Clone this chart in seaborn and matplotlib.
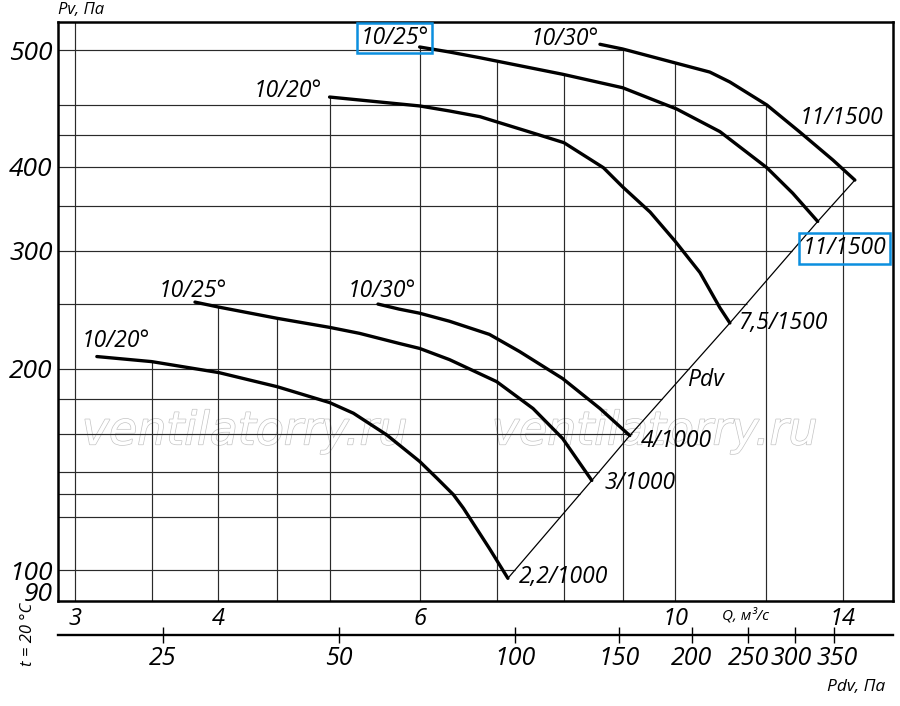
import numpy as np
import pandas as pd
import matplotlib
matplotlib.use("Agg")
import matplotlib.pyplot as plt
import matplotlib.patheffects as pe
import matplotlib.transforms as mtransforms
from matplotlib.ticker import FixedLocator, NullLocator
import seaborn as sns

# ---------------- data: Q (m3/s) and Pv (Pa) ----------------
q_a = [3.135, 3.50, 4.005, 4.50, 5.00, 5.245, 5.607, 5.99, 6.20, 6.41, 6.54, 6.89, 7.15]
p_a = [208.5, 204.9, 197.3, 188.0, 178.0, 171.6, 159.3, 145.4, 137.3, 129.7, 123.8, 107.8, 97.3]

q_b = [3.817, 4.005, 4.50, 5.00, 5.31, 5.75, 5.99, 6.36, 6.99, 7.52, 7.98, 8.46]
p_b = [251.4, 247.1, 237.8, 230.5, 225.8, 218.1, 214.4, 206.3, 191.3, 174.4, 157.3, 136.2]

q_c = [5.51, 5.75, 5.99, 6.36, 6.89, 7.32, 7.98, 8.60, 9.13]
p_c = [249.7, 245.4, 242.0, 235.4, 225.0, 212.1, 193.3, 174.4, 158.9]

q_d = [5.00, 5.99, 6.36, 6.76, 7.47, 8.00, 8.66, 9.00, 9.51, 10.00, 10.51, 10.94, 11.16]
p_d = [457.1, 449.4, 445.1, 440.3, 427.6, 419.0, 399.0, 373.6, 342.6, 309.9, 278.3, 246.5, 234.0]

q_e = [5.99, 6.36, 6.76, 7.98, 9.00, 10.03, 10.94, 12.02, 12.66, 13.31]
p_e = [502.9, 498.1, 492.7, 477.4, 465.3, 446.8, 427.9, 399.0, 365.5, 331.7]

q_f = [8.60, 9.00, 10.03, 10.72, 11.16, 12.02, 12.84, 13.72, 14.34]
p_f = [505.5, 501.0, 487.5, 479.4, 470.4, 450.2, 427.6, 405.4, 382.4]

curve_ids = ["A", "B", "C", "D", "E", "F"]
start_labels = ["10/20°", "10/25°", "10/30°", "10/20°", "10/25°", "10/30°"]
end_labels = ["2,2/1000", "3/1000", "4/1000", "7,5/1500", "11/1500", "11/1500"]

q_ticks = [3, 4, 6, 10, 14]
q_grid = [3, 3.5, 4, 4.5, 5, 6, 7, 8, 9, 10, 12, 14]
p_ticks = [90, 100, 200, 300, 400, 500]
p_grid_to_pdv = [100, 120, 130, 140, 160, 180, 200, 250, 300]
p_grid_full = [350, 400, 425]
p_grid_to_curve = [450, 500]
pdv_ticks = [25, 50, 100, 150, 200, 250, 300, 350]
PDV_COEF = 2.05            # Pdv = k * Q^n  (as drawn on the chart)
PDV_EXP = 1.961

q_series = [q_a, q_b, q_c, q_d, q_e, q_f]
p_series = [p_a, p_b, p_c, p_d, p_e, p_f]

# ---------------- style ----------------
sns.set_style("white")
plt.rcParams.update({
    "axes.edgecolor": "black", "text.color": "black",
    "xtick.color": "black", "ytick.color": "black", "axes.labelcolor": "black",
})
plt.rcParams["font.family"] = ["Open Sans", "DejaVu Sans"]
plt.rcParams["font.style"] = "italic"

BLUE = "#0b8fdf"
GRID_C = "#2a2a2a"
GRID_LW = 0.85

# axis calibration of the (non-uniform) Pv scale
Y_KNOT_L = np.log10([90.0, 400.0, 500.0])
Y_KNOT_U = np.array([0.0, 0.7496, 0.9516])


def _pw(x, xs, ys):
    x = np.asarray(x, dtype=float)
    y = np.interp(x, xs, ys)
    s0 = (ys[1] - ys[0]) / (xs[1] - xs[0])
    s1 = (ys[-1] - ys[-2]) / (xs[-1] - xs[-2])
    y = np.where(x < xs[0], ys[0] + (x - xs[0]) * s0, y)
    y = np.where(x > xs[-1], ys[-1] + (x - xs[-1]) * s1, y)
    return y


def y_fwd(p):
    return _pw(np.log10(np.clip(np.asarray(p, dtype=float), 1e-9, None)), Y_KNOT_L, Y_KNOT_U)


def y_inv(u):
    return 10 ** _pw(u, Y_KNOT_U, Y_KNOT_L)


def q_to_pdv(q):
    return PDV_COEF * np.clip(np.asarray(q, dtype=float), 1e-9, None) ** PDV_EXP


def pdv_to_q(d):
    return (np.clip(np.asarray(d, dtype=float), 1e-9, None) / PDV_COEF) ** (1.0 / PDV_EXP)


fig = plt.figure(figsize=(9, 7.06), dpi=100)
fig.patch.set_facecolor("white")
ax = fig.add_axes([58 / 900, 1 - 601 / 706, 835 / 900, 579 / 706])

df = pd.concat(
    [pd.DataFrame({"Q": q, "Pv": p, "curve": cid}) for cid, q, p in zip(curve_ids, q_series, p_series)],
    ignore_index=True,
)

sns.lineplot(data=df, x="Q", y="Pv", units="curve", estimator=None, sort=False,
             color="black", linewidth=2.4, ax=ax, zorder=4, legend=False)

ax.set_xscale("log")
ax.set_yscale("function", functions=(y_fwd, y_inv))
ax.set_xlim(2.90, 15.48)
ax.set_ylim(90, float(y_inv(1.0)))
ax.set_xlabel("")
ax.set_ylabel("")

xmin, xmax = ax.get_xlim()
ymin, ymax = ax.get_ylim()


def loglog_interp(x, xs, ys):
    return 10 ** np.interp(np.log10(x), np.log10(xs), np.log10(ys))


# Pdv line through the curve end points
ends = sorted((q[-1], p[-1]) for q, p in zip(q_series, p_series))
pdv_q = [e[0] for e in ends]
pdv_p = [e[1] for e in ends]
ax.plot(pdv_q, pdv_p, color="black", lw=0.9, zorder=3)

# vertical grid: from bottom up to the upper envelope of the curves
for qg in q_grid:
    tops = [loglog_interp(qg, q, p) for q, p in zip(q_series, p_series) if q[0] <= qg <= q[-1]]
    top = max(tops) if tops else ymax
    ax.vlines(qg, ymin, top, colors=GRID_C, lw=GRID_LW, zorder=1)

# horizontal grid
for pg in p_grid_to_pdv:
    qx = loglog_interp(pg, pdv_p, pdv_q)
    ax.hlines(pg, xmin, qx, colors=GRID_C, lw=GRID_LW, zorder=1)
for pg in p_grid_full:
    ax.hlines(pg, xmin, xmax, colors=GRID_C, lw=GRID_LW, zorder=1)
for pg in p_grid_to_curve:
    qx = loglog_interp(pg, p_f[::-1], q_f[::-1])
    ax.hlines(pg, xmin, qx, colors=GRID_C, lw=GRID_LW, zorder=1)

# ticks
ax.xaxis.set_major_locator(FixedLocator(q_ticks))
ax.set_xticklabels([str(v) for v in q_ticks])
ax.xaxis.set_minor_locator(NullLocator())
ax.yaxis.set_major_locator(FixedLocator(p_ticks))
ax.set_yticklabels([str(v) for v in p_ticks])
ax.yaxis.set_minor_locator(NullLocator())
ax.tick_params(axis="both", which="both", length=0)
ax.tick_params(axis="y", labelsize=19, pad=4)
ax.tick_params(axis="x", labelsize=17, pad=4)
ax.yaxis.get_major_ticks()[0].label1.set_verticalalignment("baseline")

for s in ax.spines.values():
    s.set_visible(True)
    s.set_linewidth(1.8)
    s.set_color("black")

# secondary Pdv axis
sec = ax.secondary_xaxis(-0.0587, functions=(q_to_pdv, pdv_to_q))
sec.xaxis.set_major_locator(FixedLocator(pdv_ticks))
sec.set_xticklabels([str(v) for v in pdv_ticks])
sec.xaxis.set_minor_locator(NullLocator())
sec.tick_params(axis="x", which="major", direction="inout", length=12, width=1.0, pad=2,
                labelsize=18, colors="black")
sec.tick_params(axis="x", which="minor", length=0)
sec.spines["bottom"].set_linewidth(1.7)
sec.spines["bottom"].set_color("black")
# small horizontal nudges of crowded labels, as on the original
nudges = {300: -4, 350: 3}
for tk, val in zip(sec.xaxis.get_major_ticks(len(pdv_ticks)), pdv_ticks):
    if val in nudges:
        off = mtransforms.ScaledTranslation(nudges[val] / 100.0, 0, fig.dpi_scale_trans)
        tk.label1.set_transform(tk.label1.get_transform() + off)

# curve labels
LBL = 16.5
start_off = [(19, 16), (-2, 11), (4, 13), (-42, 6), (-25, 9), (-35, 5)]
end_off = [(56, 1), (48, -3), (47, -5), (53, 0), (27, -27), (-13, 62)]
for i, (q, p) in enumerate(zip(q_series, p_series)):
    kw = {}
    if i == 4:
        kw["bbox"] = dict(boxstyle="square,pad=0.15", fc="none", ec=BLUE, lw=1.8)
    ax.annotate(start_labels[i], xy=(q[0], p[0]), xytext=start_off[i], textcoords="offset pixels",
                ha="center", va="center", fontsize=LBL, zorder=6, **kw)
    kw = {}
    if i == 4:
        kw["bbox"] = dict(boxstyle="square,pad=0.15", fc="none", ec=BLUE, lw=1.8)
    ax.annotate(end_labels[i], xy=(q[-1], p[-1]), xytext=end_off[i], textcoords="offset pixels",
                ha="center", va="center", fontsize=LBL, zorder=6, **kw)

# "Pdv" label next to the Pdv line
mid_q = float(np.sqrt(q_c[-1] * q_d[-1]))
mid_p = float(np.sqrt(p_c[-1] * p_d[-1]))
ax.annotate("Pdv", xy=(mid_q, mid_p), xytext=(26, -1), textcoords="offset pixels",
            ha="center", va="center", fontsize=LBL, zorder=6)

# axis titles
ax.text(0.0, 1.0207, "Pv, Па", transform=ax.transAxes, ha="left", va="center", fontsize=12)
ax.text(0.8228, -0.026, "Q, м³/с", transform=ax.transAxes, ha="center", va="center", fontsize=11)
ax.text(0.9904, -0.1485, "Pdv, Па", transform=ax.transAxes, ha="right", va="center", fontsize=12.5)
ax.text(-0.0359, -0.057, "t = 20 °C", transform=ax.transAxes, ha="center", va="center",
        rotation=90, fontsize=12)

# watermark
for xf in (0.224, 0.715):
    ax.text(xf, 0.292, "ventilatorry.ru", transform=ax.transAxes, ha="center", va="center",
            fontsize=33, family=["DejaVu Sans"], style="oblique", color="white", zorder=0.5,
            path_effects=[pe.Stroke(linewidth=1.0, foreground="#c4c4c4"), pe.Normal()])

fig.savefig("out.png", dpi=100, facecolor="white")
